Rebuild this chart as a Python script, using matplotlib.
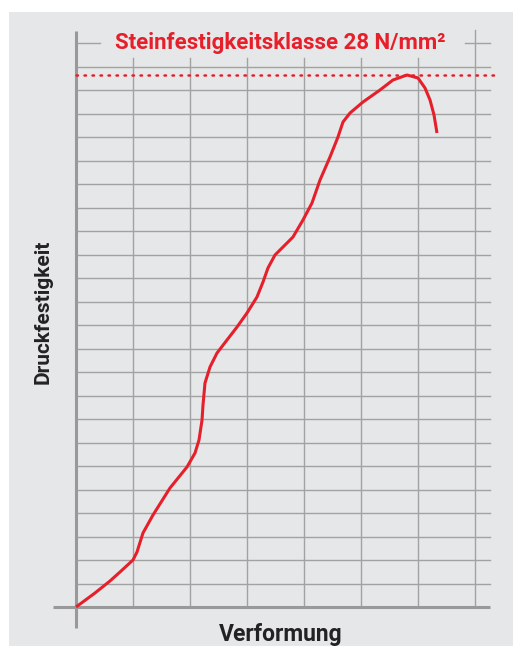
import matplotlib
matplotlib.use('Agg')
import matplotlib.pyplot as plt
from matplotlib.patches import Rectangle

# Verformung / Druckfestigkeit (Grid-Einheiten)
verformung = [0.0, 0.333, 0.596, 0.772, 1.0, 1.07, 1.175, 1.351, 1.649, 1.947, 2.088,
              2.158, 2.211, 2.228, 2.263, 2.351, 2.474, 2.649, 2.825, 3.0, 3.175,
              3.281, 3.368, 3.491, 3.702, 3.807, 3.982, 4.14, 4.281, 4.456, 4.596,
              4.684, 4.807, 5.035, 5.333, 5.561, 5.807, 6.0, 6.123, 6.211, 6.281, 6.333]
festigkeit = [0.0, 0.596, 1.106, 1.489, 2.0, 2.34, 3.149, 3.915, 5.064, 5.957, 6.553,
              7.106, 7.957, 8.596, 9.532, 10.213, 10.809, 11.362, 11.915, 12.511, 13.191,
              13.83, 14.426, 14.979, 15.489, 15.745, 16.468, 17.191, 18.17, 19.149, 20.0,
              20.638, 21.021, 21.489, 22.0, 22.426, 22.638, 22.511, 22.085, 21.574, 20.936, 20.17]
klasse_y = 22.64
titel = 'Steinfestigkeitsklasse 28 N/mm²'
x_label = 'Verformung'
y_label = 'Druckfestigkeit'

n_x = 7
n_y = 24

red = '#e5202b'
grid_c = '#a2a2a2'
bg = '#e6e7e9'

fig = plt.figure(figsize=(5.13, 6.46), dpi=100)
fig.patch.set_facecolor('white')

ax = fig.add_axes([0, 0, 1, 1])
ax.axis('off')
ax.add_patch(Rectangle((9 / 513, 0), 1, 1 - 12 / 646, transform=ax.transAxes,
                       facecolor=bg, edgecolor='none', zorder=0))
# 1 Einheit x = 57 px, 1 Einheit y = 23.5 px
ax.set_xlim(-76 / 57, (513 - 76) / 57)
ax.set_ylim(-39 / 23.5, 607 / 23.5)

x_end = (490 - 76) / 57

# Gitter
for k in range(1, n_y):
    ax.plot([0, x_end], [k, k], color=grid_c, lw=1.0, zorder=1)
ax.plot([0, (100 - 76) / 57], [n_y, n_y], color=grid_c, lw=1.0, zorder=1)
ax.plot([(465 - 76) / 57, x_end], [n_y, n_y], color=grid_c, lw=1.0, zorder=1)
for k in range(1, n_x):
    ax.plot([k, k], [0, (607 - 58) / 23.5], color=grid_c, lw=1.0, zorder=1)
ax.plot([n_x, n_x], [0, (607 - 30) / 23.5], color=grid_c, lw=1.0, zorder=1)

# Achsen
ax.plot([-23 / 57, x_end], [0, 0], color='#999999', lw=2.2, zorder=2, solid_capstyle='butt')
ax.plot([0, 0], [-21 / 23.5, (607 - 31) / 23.5], color='#999999', lw=2.2, zorder=2,
        solid_capstyle='butt')

# Grenzlinie
ax.plot([0, (494 - 76) / 57], [klasse_y, klasse_y], color=red, lw=1.8,
        linestyle=(0, (0.6, 2.6)), dash_capstyle='round', zorder=3)

ax.plot(verformung, festigkeit, color=red, lw=2.2, zorder=4, solid_capstyle='butt',
        solid_joinstyle='round')

ax.text((280 - 76) / 57, n_y, titel, color=red, fontsize=16, fontweight='bold',
        family='Roboto', ha='center', va='center', zorder=5)
ax.text((281 - 76) / 57, (607 - 634) / 23.5, x_label, color='#222222', fontsize=16.5,
        fontweight='bold', family='Roboto', ha='center', va='center')
ax.text((43 - 76) / 57, (607 - 312) / 23.5, y_label, color='#222222', fontsize=15,
        fontweight='bold', family='Roboto', ha='center', va='center', rotation=90)

fig.savefig('out.png', dpi=100)
